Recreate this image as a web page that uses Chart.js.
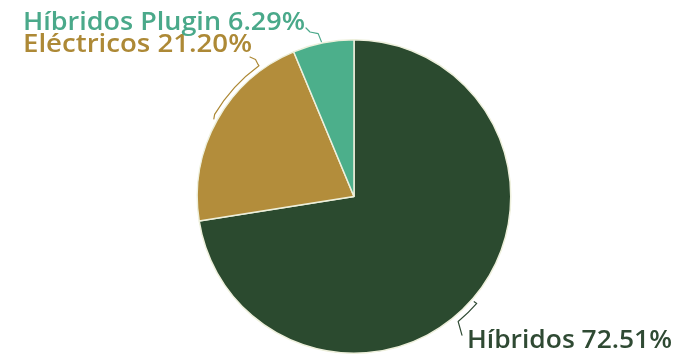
<!DOCTYPE html>
<html>
<head>
<meta charset="utf-8">
<script src="https://cdn.jsdelivr.net/npm/chart.js@4"></script>
<style>
  html, body { margin: 0; padding: 0; background: #ffffff; }
  #wrap { width: 676px; height: 354px; position: relative; overflow: hidden; }
</style>
</head>
<body>
<div id="wrap"><canvas id="myChart" width="676" height="354"></canvas></div>
<script>
let categories = ["Híbridos", "Eléctricos", "Híbridos Plugin"];
let shares = [72.51, 21.20, 6.29];
let colors = ["#2b4a2f", "#b38d3b", "#4caf8b"];
let textColors = ["#2f4a33", "#ad8936", "#4aa98a"];

// texto de cada etiqueta: posicion y ancho
let etiquetes = [
    { text: categories[0] + " " + shares[0].toFixed(2) + "%", x: 467, y: 348, w: 205 },
    { text: categories[1] + " " + shares[1].toFixed(2) + "%", x: 23, y: 52, w: 229 },
    { text: categories[2] + " " + shares[2].toFixed(2) + "%", x: 23, y: 30, w: 282 }
];

// corchetes: punto del texto, puntos polares [angulo, distancia fuera del borde]
// y un arco opcional {a1, a2, off}
let corchetes = [
    { inici: null, px: [], polars: [[41.2, 3], [41.05, 6]], arc: { a1: 41.05, a2: 50.2, off: 6 }, fi: [[52.1, 19]] },
    { inici: [250, 57], px: [], polars: [[-125.7, 12], [-126, 6.5]], arc: { a1: -126, a2: -149.5, off: 5 }, fi: [[-151, 3.5]] },
    { inici: [306, 28], px: [[310, 32]], polars: [[-102.4, 10], [-101.9, 1.5]], arc: null, fi: [] }
];

function polar(cx, cy, r, a, off) {
    let rad = a * Math.PI / 180;
    return [cx + Math.cos(rad) * (r + off), cy + Math.sin(rad) * (r + off)];
}

let pluginEtiquetes = {
    id: "etiquetes",
    afterDatasetsDraw(chart) {
        let ctx = chart.ctx;
        let arc = chart.getDatasetMeta(0).data[0];
        let cx = arc.x;
        let cy = arc.y;
        let r = arc.outerRadius;

        ctx.save();
        ctx.lineWidth = 1.2;
        ctx.lineJoin = "round";
        ctx.lineCap = "round";
        for (let i = 0; i < corchetes.length; i++) {
            let c = corchetes[i];
            ctx.strokeStyle = textColors[i];
            ctx.beginPath();
            let primer = true;
            let afegir = function (p) {
                if (primer) {
                    ctx.moveTo(p[0], p[1]);
                    primer = false;
                } else {
                    ctx.lineTo(p[0], p[1]);
                }
            };
            if (c.inici != null) afegir(c.inici);
            for (let j = 0; j < c.px.length; j++) afegir(c.px[j]);
            for (let j = 0; j < c.polars.length; j++) {
                afegir(polar(cx, cy, r, c.polars[j][0], c.polars[j][1]));
            }
            if (c.arc != null) {
                let a1 = c.arc.a1 * Math.PI / 180;
                let a2 = c.arc.a2 * Math.PI / 180;
                ctx.arc(cx, cy, r + c.arc.off, a1, a2, a2 < a1);
                primer = false;
            }
            for (let j = 0; j < c.fi.length; j++) {
                afegir(polar(cx, cy, r, c.fi[j][0], c.fi[j][1]));
            }
            ctx.stroke();
        }

        ctx.font = "600 25px 'Open Sans'";
        ctx.textAlign = "left";
        ctx.textBaseline = "alphabetic";
        for (let i = 0; i < etiquetes.length; i++) {
            let e = etiquetes[i];
            let ample = ctx.measureText(e.text).width;
            ctx.save();
            ctx.translate(e.x, e.y);
            ctx.scale(e.w / ample, 1);
            ctx.fillStyle = textColors[i];
            ctx.fillText(e.text, 0, 0);
            ctx.restore();
        }
        ctx.restore();
    }
};

new Chart(document.getElementById("myChart"), {
    type: "pie",
    data: {
        labels: categories,
        datasets: [{
            data: shares,
            backgroundColor: colors,
            borderColor: "#eef0dc",
            borderWidth: 1.5
        }]
    },
    options: {
        responsive: false,
        animation: false,
        layout: {
            padding: { top: 39, bottom: -1, left: 32, right: 0 }
        },
        plugins: {
            legend: { display: false },
            tooltip: { enabled: false }
        }
    },
    plugins: [pluginEtiquetes]
});
</script>
</body>
</html>
